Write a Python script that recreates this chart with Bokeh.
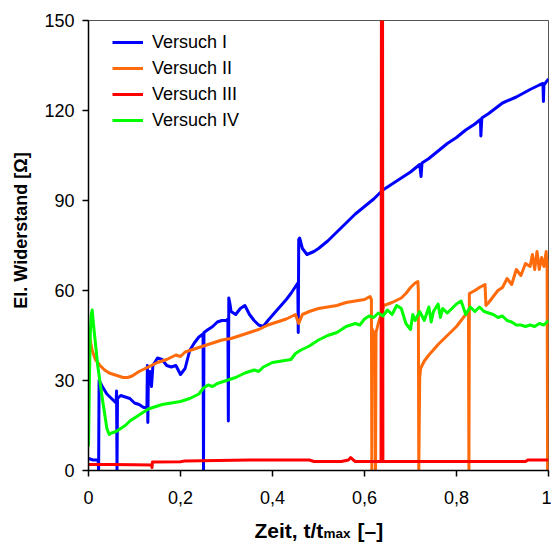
from bokeh.plotting import figure
from bokeh.layouts import column
from bokeh.models import FixedTicker, CustomJSTickFormatter, Legend, LegendItem
from bokeh.core.properties import value
from bokeh.embed import file_html
from bokeh.resources import INLINE

# ---- data ----
blue_t = [0, 0.01, 0.021, 0.022, 0.023, 0.03, 0.04, 0.05, 0.06, 0.061, 0.062, 0.063, 0.07, 0.08, 0.09,
          0.1, 0.11, 0.12, 0.127, 0.128, 0.129, 0.13, 0.134, 0.137, 0.14, 0.15, 0.16, 0.17, 0.18, 0.19,
          0.2, 0.21, 0.22, 0.23, 0.24, 0.249, 0.25, 0.251, 0.26, 0.27, 0.28, 0.29, 0.3, 0.303, 0.304,
          0.305, 0.307, 0.31, 0.32, 0.33, 0.34, 0.35, 0.36, 0.37, 0.38, 0.39, 0.41, 0.43, 0.44, 0.455,
          0.456, 0.457, 0.459, 0.465, 0.475, 0.49, 0.5, 0.52, 0.54, 0.56, 0.58, 0.6, 0.62, 0.64, 0.66,
          0.68, 0.69, 0.7, 0.72, 0.723, 0.725, 0.74, 0.76, 0.78, 0.8, 0.82, 0.84, 0.852, 0.853, 0.855,
          0.87, 0.9, 0.93, 0.96, 0.98, 0.988, 0.989, 0.99, 1.0]
blue_r = [4, 3.5, 3.5, 0, 30, 28, 25.5, 24, 22.5, 26.5, 0, 24, 25, 24.5, 24,
          22.5, 22, 21, 21, 35, 16, 29, 33, 28, 35, 37.5, 37, 35, 34.5, 35,
          32, 34, 40, 42.5, 44.5, 45.5, 0, 46, 47, 48, 49.5, 50, 50, 50.5, 16.5,
          57.5, 56, 53, 52, 54, 55, 52, 50, 48.5, 48, 50, 53.5, 57, 59, 62.5,
          46, 77, 77.5, 74, 72, 73, 74, 76.5, 79.5, 82.5, 85.5, 88, 90.5, 93.5, 95.5,
          97.5, 98.5, 99.5, 102, 98, 102.5, 104, 106.5, 109, 111, 113.5, 115.5, 117, 111.5, 117.5,
          119, 122.5, 124.5, 127, 128.5, 129, 123, 128.5, 130.5]

orange_t = [0, 0.003, 0.008, 0.015, 0.025, 0.035, 0.045, 0.055, 0.065, 0.075, 0.085, 0.095, 0.11, 0.13,
            0.15, 0.17, 0.19, 0.2, 0.21, 0.23, 0.25, 0.27, 0.29, 0.31, 0.33, 0.35, 0.37, 0.39, 0.41,
            0.43, 0.45, 0.457, 0.465, 0.48, 0.5, 0.52, 0.54, 0.56, 0.58, 0.6, 0.612, 0.615, 0.616,
            0.617, 0.62, 0.623, 0.624, 0.625, 0.63, 0.642, 0.66, 0.68, 0.69, 0.7, 0.71, 0.716, 0.717,
            0.718, 0.72, 0.722, 0.73, 0.74, 0.76, 0.78, 0.8, 0.81, 0.82, 0.826, 0.827, 0.828, 0.84,
            0.85, 0.862, 0.864, 0.87, 0.88, 0.89, 0.9, 0.91, 0.92, 0.93, 0.94, 0.95, 0.96, 0.965,
            0.97, 0.975, 0.98, 0.985, 0.99, 0.995, 0.997, 0.998, 0.999, 1.0]
orange_r = [47, 44, 40, 37, 35, 33.5, 32.5, 32, 31.5, 31, 31, 31.5, 33, 34.5,
            36, 37, 38.5, 38, 39.5, 40.5, 41.5, 42.5, 43.5, 44, 45, 46, 47, 48.5, 49.5,
            50.5, 52, 49, 52, 53, 54, 54.5, 55, 56, 56.5, 57, 58, 57, 0,
            47, 46, 46, 0, 46, 49, 55, 56, 57.5, 59, 61, 62.5, 63, 60,
            0, 31, 34, 36.5, 38.5, 42, 45, 48, 50, 52, 53, 0, 59, 60,
            61, 62, 55, 56, 58, 60, 61, 64, 62, 67, 65, 69, 68, 72,
            67, 73, 67, 71, 68, 73, 67, 0, 0, 70]

red_t = [0, 0.05, 0.1, 0.137, 0.138, 0.139, 0.2, 0.21, 0.35, 0.48, 0.49, 0.55, 0.565, 0.57, 0.575,
         0.58, 0.636, 0.637, 0.639, 0.64, 0.8, 0.95, 0.955, 1.0]
red_r = [2.0, 2.0, 1.9, 1.8, 1.0, 2.8, 2.9, 3.2, 3.5, 3.5, 3.0, 3.0, 3.5, 4.3, 3.6,
         3.0, 3.0, 200, 200, 3.0, 3.0, 3.0, 3.5, 3.5]

green_t = [0, 0.002, 0.004, 0.006, 0.008, 0.01, 0.014, 0.02, 0.03, 0.04, 0.045, 0.05, 0.06, 0.07, 0.08,
           0.09, 0.1, 0.11, 0.12, 0.13, 0.14, 0.15, 0.16, 0.18, 0.2, 0.22, 0.24, 0.25, 0.26, 0.27,
           0.28, 0.3, 0.32, 0.34, 0.36, 0.37, 0.38, 0.4, 0.42, 0.44, 0.45, 0.46, 0.48, 0.5, 0.52,
           0.54, 0.56, 0.58, 0.59, 0.6, 0.61, 0.62, 0.63, 0.64, 0.65, 0.66, 0.67, 0.68, 0.69, 0.7,
           0.705, 0.71, 0.72, 0.73, 0.74, 0.745, 0.75, 0.76, 0.765, 0.77, 0.78, 0.79, 0.8, 0.81,
           0.82, 0.83, 0.84, 0.85, 0.86, 0.87, 0.88, 0.89, 0.9, 0.91, 0.92, 0.93, 0.94, 0.95, 0.96,
           0.97, 0.98, 0.99, 1.0]
green_r = [8, 30, 46, 52, 53.5, 50, 44, 35, 24, 14, 12, 12.5, 13, 14, 15,
           16.5, 17.5, 18.5, 19.5, 20.5, 21, 21.5, 22, 22.5, 23, 24, 25.5, 27.5, 28.5, 28,
           29, 30, 31, 32.5, 33.5, 33, 34.5, 36, 36.5, 37, 39, 40, 41.5, 43.5, 45,
           46, 48, 49, 48.5, 50.5, 51.5, 51, 52.5, 51.5, 53.5, 52, 55, 54, 49, 47,
           52, 50, 53, 50, 54.5, 49.5, 53, 55.5, 51, 54, 52.5, 54, 55.5, 56.5,
           52, 54.5, 53, 54.5, 53, 52.5, 52, 51, 51.5, 50, 49.5, 48.5, 48.5, 48, 48.5,
           48, 49, 48.5, 50]

series_names = ["Versuch I", "Versuch II", "Versuch III", "Versuch IV"]
series_colors = ["#0000FF", "#FF6A0A", "#FF0000", "#00FF00"]
x_ticks = [0, 0.2, 0.4, 0.6, 0.8, 1.0]
y_ticks = [0, 30, 60, 90, 120, 150]
y_title = "El. Widerstand [Ω]"
x_title_parts = ["Zeit, t/t", "max", "[–]"]

FONT = "Liberation Sans"

p = figure(frame_width=460, frame_height=450, x_range=(0, 1), y_range=(0, 150),
           output_backend="svg", toolbar_location=None,
           min_border_left=88, min_border_top=20, min_border_right=3, min_border_bottom=42)
p.background_fill_color = "white"
p.border_fill_color = "white"
p.outline_line_color = "#555555"
p.outline_line_width = 1
p.grid.visible = False

for ax in (p.xaxis[0], p.yaxis[0]):
    ax.axis_line_color = "black"
    ax.axis_line_width = 1.5
    ax.major_tick_line_color = "black"
    ax.major_tick_line_width = 1.5
    ax.major_tick_out = 6
    ax.major_tick_in = 0
    ax.minor_tick_out = 0
    ax.minor_tick_in = 0
    ax.major_label_text_font = FONT
    ax.major_label_text_font_size = "18px"
    ax.major_label_text_color = "black"

p.xaxis.ticker = FixedTicker(ticks=x_ticks)
p.yaxis.ticker = FixedTicker(ticks=y_ticks)
p.xaxis.formatter = CustomJSTickFormatter(code="""
    if (Math.abs(tick - Math.round(tick)) < 1e-9) { return Math.round(tick).toString(); }
    return tick.toFixed(1).replace('.', ',');
""")
p.xaxis.major_label_standoff = 14
p.yaxis.major_label_standoff = 8

# y title (leading no-break spaces shift it slightly upward like the reference)
p.yaxis.axis_label = "\u00a0" * 6 + y_title
p.yaxis.axis_label_text_font = FONT
p.yaxis.axis_label_text_font_style = "bold"
p.yaxis.axis_label_text_font_size = "18px"
p.yaxis.axis_label_text_color = "black"
p.yaxis.axis_label_standoff = 10

series = [(blue_t, blue_r), (orange_t, orange_r), (red_t, red_r), (green_t, green_r)]
renderers = []
for (t, r), c in zip(series, series_colors):
    renderers.append(p.line(t, r, line_color=c, line_width=3, line_join="round"))
renderers[2].level = "glyph"

legend = Legend(items=[LegendItem(label=n, renderers=[rr]) for n, rr in zip(series_names, renderers)],
                location=(24, 450 - 9 - 104), orientation="vertical",
                border_line_color=None, background_fill_alpha=0,
                padding=0, margin=0, spacing=0,
                glyph_width=31, glyph_height=26, label_height=26,
                label_standoff=9, label_text_font=FONT, label_text_font_size="18px",
                label_text_color="black")
p.add_layout(legend)

# x title strip: x in page pixels (frame aligned with the plot frame), y from the strip's top
q = figure(width=551, height=30, x_range=(88, 548), y_range=(30, 0),
           output_backend="svg", toolbar_location=None,
           x_axis_location=None, y_axis_location=None,
           min_border_left=88, min_border_right=3, min_border_top=0, min_border_bottom=0)
q.outline_line_color = None
q.grid.visible = False
q.background_fill_color = "white"
q.border_fill_color = "white"
q.text(x=[254], y=[18], text=[x_title_parts[0]], text_font=value(FONT), text_font_style="bold",
       text_font_size="21px", text_align="left", text_baseline="alphabetic", text_color="black")
q.text(x=[323], y=[20.5], text=[x_title_parts[1]], text_font=value(FONT), text_font_style="bold",
       text_font_size="13.5px", text_align="left", text_baseline="alphabetic", text_color="black")
q.text(x=[357], y=[18], text=[x_title_parts[2]], text_font=value(FONT), text_font_style="bold",
       text_font_size="21px", text_align="left", text_baseline="alphabetic", text_color="black")

layout = column(p, q, spacing=0)
open("out.html", "w").write(file_html(layout, INLINE))
